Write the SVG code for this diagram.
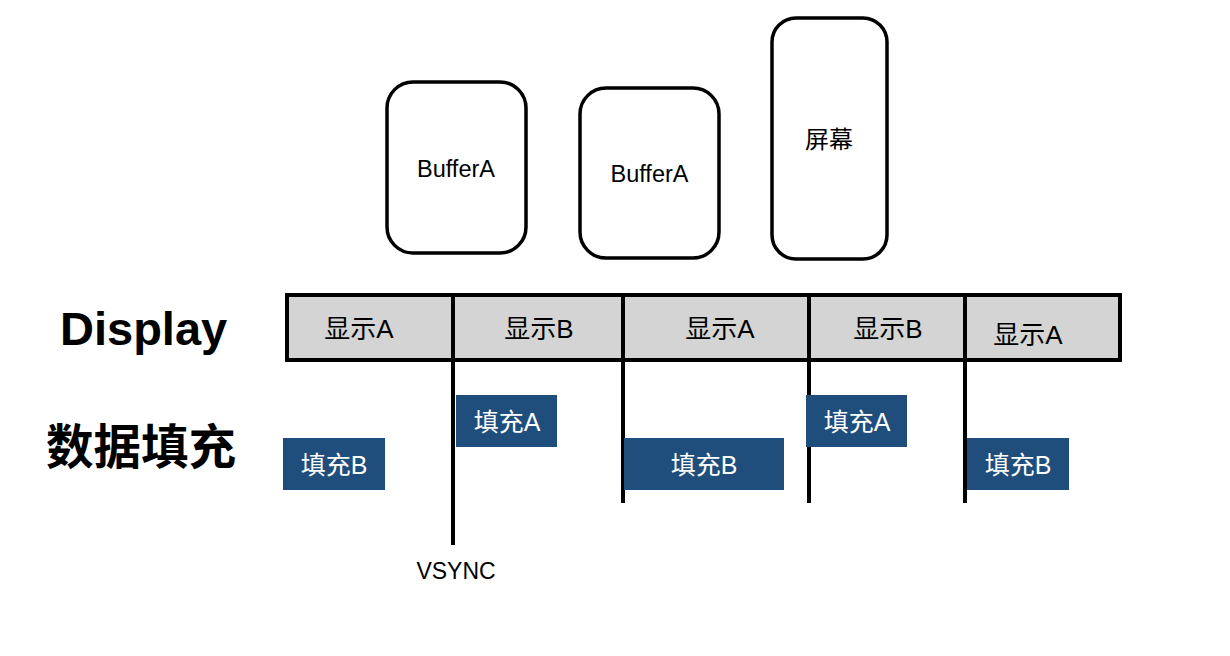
<svg xmlns="http://www.w3.org/2000/svg" width="1230" height="656" viewBox="0 0 1230 656">
<style>
.t{font-family:"Liberation Sans","Noto Sans CJK SC",Arial,sans-serif;fill:#000;text-anchor:middle}
.b{font-weight:bold;text-anchor:start}
.buf{fill:#fff;stroke:#000;stroke-width:3.5}
.fill{fill:#1f4d7c}
.ft{font-family:"Liberation Sans","Noto Sans CJK SC",Arial,sans-serif;fill:#fff;text-anchor:middle;font-size:25px}
.dl{stroke:#000;stroke-width:4}
</style>
<rect width="1230" height="656" fill="#fff"/>
<g id="bufferA1"><rect class="buf" x="387" y="82" width="139" height="171" rx="26"/><text class="t" x="456" y="177" font-size="23.5">BufferA</text></g>
<g id="bufferA2"><rect class="buf" x="580" y="88" width="139" height="170" rx="26"/><text class="t" x="649.5" y="182" font-size="23.5">BufferA</text></g>
<g id="screen"><rect class="buf" x="772" y="18" width="115" height="241" rx="24"/><text class="t" x="829" y="148" font-size="24">屏幕</text></g>
<text class="t b" x="60" y="345" font-size="47">Display</text>
<text class="t b" x="46" y="464" font-size="47.5">数据填充</text>
<g id="display">
<rect x="287" y="295" width="833" height="65" fill="#d4d4d4" stroke="#000" stroke-width="4"/>
<text class="t" x="359" y="338" font-size="26">显示A</text>
<text class="t" x="539" y="338" font-size="26">显示B</text>
<text class="t" x="720" y="338" font-size="26">显示A</text>
<text class="t" x="888" y="338" font-size="26">显示B</text>
<text class="t" x="1028" y="344" font-size="26">显示A</text>
</g>
<g id="connectors">
<line class="dl" x1="453" y1="295" x2="453" y2="545"/>
<line class="dl" x1="623" y1="295" x2="623" y2="503"/>
<line class="dl" x1="809" y1="295" x2="809" y2="503"/>
<line class="dl" x1="965" y1="295" x2="965" y2="503"/>
</g>
<g id="fillB1"><rect class="fill" x="283" y="438" width="102" height="52"/><text class="ft" x="334" y="474">填充B</text></g>
<g id="fillA1"><rect class="fill" x="456" y="395" width="101" height="52"/><text class="ft" x="507" y="431">填充A</text></g>
<g id="fillB2"><rect class="fill" x="624" y="438" width="160" height="52"/><text class="ft" x="704" y="474">填充B</text></g>
<g id="fillA2"><rect class="fill" x="806" y="395" width="101" height="52"/><text class="ft" x="857" y="431">填充A</text></g>
<g id="fillB3"><rect class="fill" x="967" y="438" width="102" height="52"/><text class="ft" x="1018" y="474">填充B</text></g>
<text class="t" x="456" y="579" font-size="23">VSYNC</text>
</svg>
